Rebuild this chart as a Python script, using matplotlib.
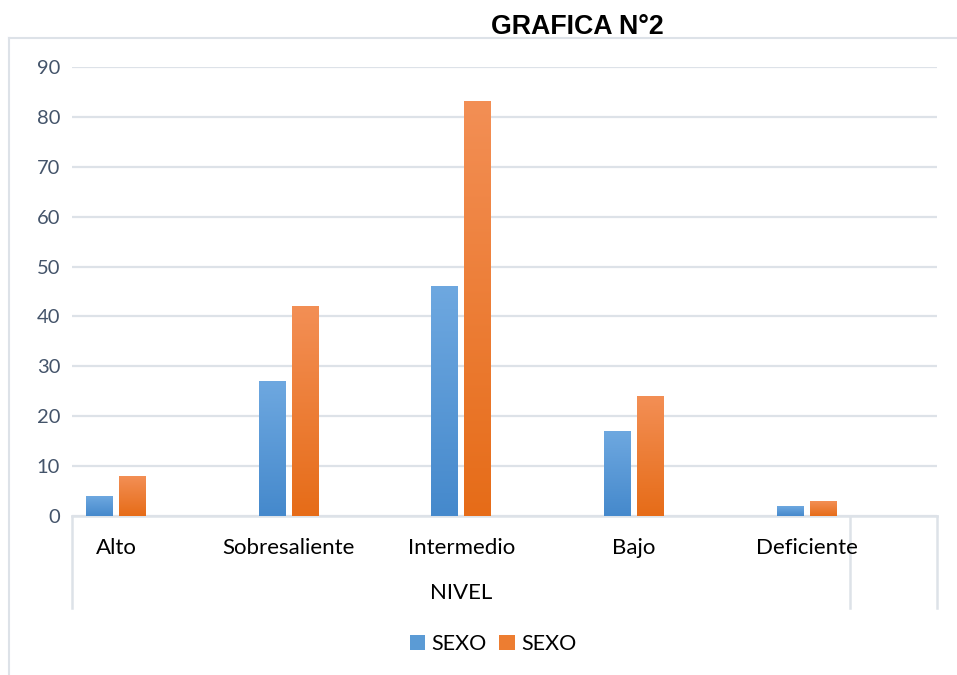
import matplotlib
matplotlib.use("Agg")
import matplotlib.pyplot as plt
import numpy as np
from matplotlib.patches import Patch
from matplotlib.colors import LinearSegmentedColormap
from matplotlib.lines import Line2D

categories = ["Alto", "Sobresaliente", "Intermedio", "Bajo", "Deficiente"]
series1 = [4, 27, 46, 17, 2]
series2 = [8, 42, 83, 24, 3]
series_names = ["SEXO", "SEXO"]
group_label = "NIVEL"
title = "GRAFICA N°2"
yticks = list(range(0, 91, 10))

W, H = 957, 675
fig = plt.figure(figsize=(W / 100, H / 100), dpi=100)
fig.patch.set_facecolor("white")

FONT = "Lato"
grid_c = "#dde2e8"

ax = fig.add_axes([72 / W, (H - 516) / H, (937 - 72) / W, (516 - 67) / H])
ax.set_facecolor("white")

x = np.arange(len(categories))
bw = 0.156
off = 0.0955

blue_cmap = LinearSegmentedColormap.from_list("b", ["#4589cc", "#6ea8e0"])
orange_cmap = LinearSegmentedColormap.from_list("o", ["#e66c18", "#f38f55"])

b1 = ax.bar(x - off, series1, bw, color="#5b9bd5", zorder=3)
b2 = ax.bar(x + off, series2, bw, color="#ed7d31", zorder=3)
grad = np.linspace(0, 1, 256).reshape(-1, 1)
for bars, cmap in ((b1, blue_cmap), (b2, orange_cmap)):
    for r in bars:
        x0, w, h = r.get_x(), r.get_width(), r.get_height()
        ax.imshow(grad, cmap=cmap, extent=[x0, x0 + w, 0, h], origin="lower",
                  aspect="auto", zorder=4, interpolation="bicubic")

ax.set_xlim(-0.255, 4.754)
ax.set_ylim(0, 90)
ax.set_yticks(yticks)
ax.set_yticklabels([str(t) for t in yticks], fontfamily=FONT, fontsize=14.5, color="#44546a")
ax.tick_params(axis="y", length=0, pad=8.5)
ax.set_xticks([])
for s in ax.spines.values():
    s.set_visible(False)
ax.grid(axis="y", color=grid_c, linewidth=1.6, zorder=0)
ax.set_axisbelow(True)

# category axis (multi-level)
trans = ax.get_xaxis_transform()
ax.add_line(Line2D([-0.255, 4.754], [0, 0], transform=trans, color=grid_c, lw=1.8, clip_on=False, zorder=2))
for xv in (-0.255, 4.25, 4.754):
    ax.add_line(Line2D([xv, xv], [0, -92 / 449], transform=trans, color=grid_c, lw=1.8, clip_on=False))
for xi, c in zip(x, categories):
    ax.text(xi, -32 / 449, c, transform=trans, ha="center", va="center",
            fontfamily=FONT, fontsize=16, color="black")
ax.text(2, -77 / 449, group_label, transform=trans, ha="center", va="center",
        fontfamily=FONT, fontsize=16, color="black")

# chart area border
fig.add_artist(Line2D([9 / W, 9 / W], [0, (H - 38) / H], color=grid_c, lw=1.5))
fig.add_artist(Line2D([9 / W, 1], [(H - 38) / H, (H - 38) / H], color=grid_c, lw=1.5))

fig.text(577 / W, (H - 27) / H, title, ha="center", va="center",
         fontfamily="Liberation Sans", fontweight="bold", fontsize=19.3, color="black")

handles = [Patch(facecolor="#5b9bd5", edgecolor="none"), Patch(facecolor="#ed7d31", edgecolor="none")]
fig.legend(handles, series_names, loc="center", bbox_to_anchor=(493 / W, (H - 644) / H),
           ncol=2, frameon=False, prop={"family": FONT, "size": 15.5},
           handlelength=0.7, handleheight=0.7, handletextpad=0.3, columnspacing=0.6)

fig.savefig("out.png", dpi=100, facecolor="white")
